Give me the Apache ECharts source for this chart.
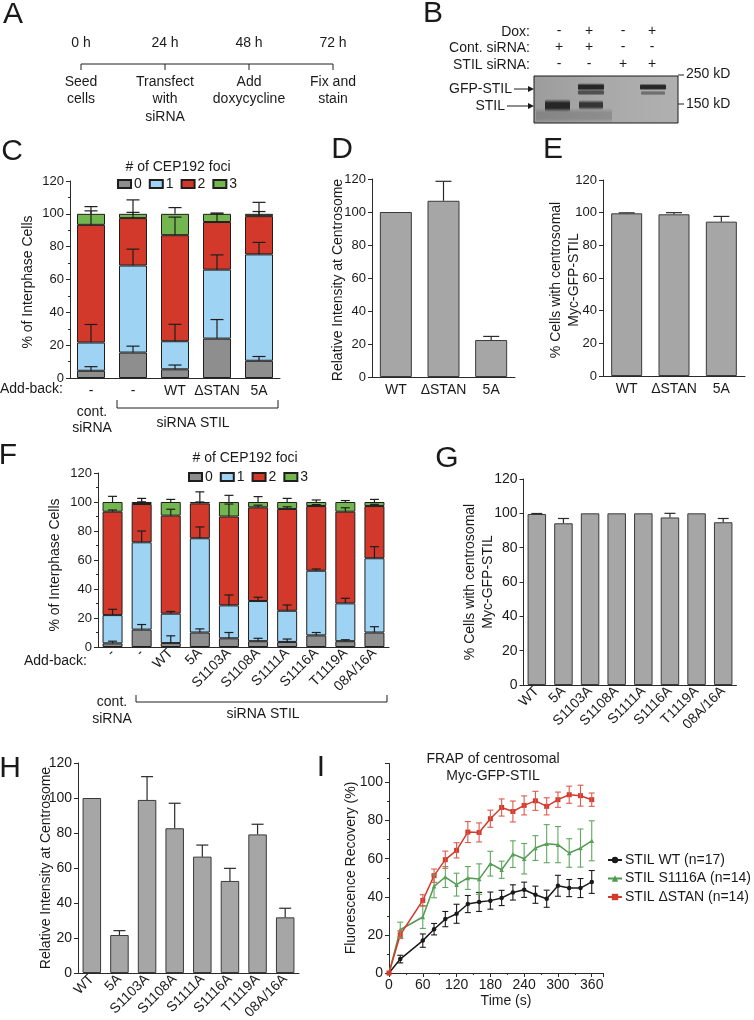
<!DOCTYPE html>
<html><head><meta charset="utf-8">
<script src="https://cdn.jsdelivr.net/npm/echarts@6/dist/echarts.min.js"></script>
<style>html,body{margin:0;padding:0;background:#fff}#c{width:754px;height:1020px}</style>
</head><body><div id="c"></div>
<script>
const FONT = 'Liberation Sans';
// ---------- Panel C ----------
const cCats = ['-', '-', 'WT', 'ΔSTAN', '5A'];
const cFoci0 = [4.4, 15.5, 5.3, 24, 10.5];
const cFoci1 = [17.2, 53, 17.1, 42, 64.8];
const cFoci2 = [71.7, 28.9, 64.6, 29, 23.3];
const cFoci3 = [6.7, 2.6, 13, 5, 1.4];
const cErr0 = [2.5, 3.9, 2.6, 11.6, 2.6];
const cErr1 = [11, 10, 10.3, 9, 7.3];
const cErr2 = [8.5, 3.5, 11, 5, 2.8];
const cErr3 = [4.4, 8.5, 3.8, 0.5, 7];
// ---------- Panel D ----------
const dCats = ['WT', 'ΔSTAN', '5A'];
const dVals = [100, 106.8, 22.4];
const dErr = [0, 11.8, 2.2];
// ---------- Panel E ----------
const eCats = ['WT', 'ΔSTAN', '5A'];
const eVals = [99.6, 99, 94.5];
const eErr = [0.3, 1, 3.2];
// ---------- Panel F ----------
const fCats = ['-', '-', 'WT', '5A', 'S1103A', 'S1108A', 'S1111A', 'S1116A', 'T1119A', '08A/16A'];
const fFoci0 = [2.5, 12, 2.7, 10, 6, 4, 3.5, 8, 4, 10];
const fFoci1 = [19.5, 60.2, 20.3, 65, 22.7, 27.7, 21.5, 44.6, 26.1, 51.2];
const fFoci2 = [71.3, 26.4, 67.6, 24, 61.3, 64.6, 70.2, 44.6, 63.2, 36];
const fFoci3 = [6.7, 1.4, 9.4, 1, 10, 3.7, 4.8, 2.8, 6.7, 2.8];
const fErr0 = [1.5, 3.5, 5, 2.5, 4, 2, 2, 2, 1, 4];
const fErr1 = [4, 7.8, 1.5, 7.8, 7.2, 2.6, 4, 1.2, 3.5, 8];
const fErr2 = [1.2, 1.5, 4.4, 1, 8.6, 1.5, 1.5, 1, 2.7, 1.2];
const fErr3 = [3.9, 2.5, 1.8, 7, 4.6, 3.7, 2.5, 1.4, 1, 1.8];
// ---------- Panel G ----------
const gCats = ['WT', '5A', 'S1103A', 'S1108A', 'S1111A', 'S1116A', 'T1119A', '08A/16A'];
const gVals = [99.6, 94.2, 100, 100, 100, 97.6, 100, 94.8];
const gErr = [0.3, 2.8, 0, 0, 0, 2.4, 0, 2.2];
// ---------- Panel H ----------
const hCats = ['WT', '5A', 'S1103A', 'S1108A', 'S1111A', 'S1116A', 'T1119A', '08A/16A'];
const hVals = [100, 21.7, 98.9, 82.7, 66.5, 52.6, 79.2, 31.8];
const hErr = [0, 2.5, 13.3, 14.3, 6.6, 7.2, 5.8, 5.2];
// ---------- Panel I ----------
const iTimes = [0, 20, 60, 80, 100, 120, 140, 160, 180, 200, 220, 240, 260, 280, 300, 320, 340, 360];
const iWT = [0, 7.3, 17, 23, 28.3, 31.1, 36.2, 37.3, 38, 39.4, 42.3, 43.7, 41.1, 39, 45.8, 44.6, 44.6, 47.8];
const iWTErr = [0, 2, 3.5, 3, 4, 5, 4.5, 5, 4.5, 4, 4, 4, 4.5, 4.5, 5.5, 4.5, 5, 6];
const iS1116A = [0, 22.7, 29.4, 45.5, 50.4, 46.4, 49.9, 49.3, 57.4, 54.2, 62.4, 60, 65.6, 67.9, 67.4, 63, 65.6, 69.4];
const iS1116AErr = [0, 4, 6, 6, 5.5, 6, 6, 8, 6.5, 4.5, 7, 8, 6.5, 10, 9.5, 7.5, 10, 10.5];
const iDSTAN = [0, 20.1, 38.1, 51.1, 59.5, 64.4, 74, 73.8, 81, 86.9, 84.8, 88, 90.4, 87.5, 91, 93.6, 93.1, 91];
const iDSTANErr = [0, 2, 3, 3.5, 4.5, 4, 5.5, 5, 4.5, 4.5, 5.5, 5, 5, 4.5, 4, 4.5, 5.5, 3.5];
const iNames = ['STIL WT (n=17)', 'STIL S1116A (n=14)', 'STIL ΔSTAN (n=14)'];

const COL0 = '#8e8e8e', COL1 = '#9fd3f3', COL2 = '#d2392b', COL3 = '#73b650';
const BARGRAY = '#a6a6a6';
const AX = '#2a2a2a', TXT = '#1a1a1a';

function catAxis(grid, data, extra) {
  const a = {type: 'category', gridIndex: grid, data,
    axisLine: {lineStyle: {color: AX, width: 1}}, axisTick: {show: false},
    axisLabel: {color: TXT, fontSize: 14, fontFamily: FONT, margin: 6, interval: 0}};
  if (extra) Object.assign(a.axisLabel, extra);
  return a;
}
function valAxis(grid, max, interval, fs, minor) {
  return {type: 'value', gridIndex: grid, min: 0, max, interval,
    splitLine: {show: false},
    axisLine: {show: true, lineStyle: {color: AX, width: 1}},
    axisTick: {show: true, length: 4, lineStyle: {color: AX}},
    minorTick: {show: !!minor, splitNumber: 2, length: 2, lineStyle: {color: AX}},
    axisLabel: {fontSize: fs, color: TXT, fontFamily: FONT, margin: 6, showMaxLabel: (max % interval === 0)}};
}
function stackErr(segs, errs) {
  const out = [];
  for (let i = 0; i < segs[0].length; i++) {
    let cum = 0;
    for (let k = 0; k < segs.length; k++) {
      cum += segs[k][i];
      if (errs[k][i] > 0) out.push([i, cum, cum + errs[k][i]]);
    }
  }
  return out;
}
function barErr(vals, errs) {
  const out = [];
  vals.forEach((v, i) => { if (errs[i] > 0) out.push([i, v, v + errs[i]]); });
  return out;
}
function errSeries(xi, data, capW, color, twoSided, lw) {
  return {type: 'custom', xAxisIndex: xi, yAxisIndex: xi, z: 5, silent: true,
    data, encode: {x: 0, y: [1, 2]},
    renderItem: function (params, api) {
      const x = api.value(0), lo = api.value(1), hi = api.value(2);
      const p1 = api.coord([x, lo]), p2 = api.coord([x, hi]);
      const st = {stroke: color, lineWidth: lw || 1.2};
      const ch = [
        {type: 'line', shape: {x1: p1[0], y1: p1[1], x2: p2[0], y2: p2[1]}, style: st},
        {type: 'line', shape: {x1: p2[0] - capW / 2, y1: p2[1], x2: p2[0] + capW / 2, y2: p2[1]}, style: st}
      ];
      if (twoSided) ch.push({type: 'line', shape: {x1: p1[0] - capW / 2, y1: p1[1], x2: p1[0] + capW / 2, y2: p1[1]}, style: st});
      return {type: 'group', children: ch};
    }};
}
function stackBars(xi, stack, segs, bw) {
  const cols = [COL0, COL1, COL2, COL3];
  return segs.map((d, k) => ({type: 'bar', name: String(k), stack, xAxisIndex: xi, yAxisIndex: xi,
    data: d, barWidth: bw, itemStyle: {color: cols[k], borderColor: '#1e1e1e', borderWidth: 1}}));
}
function plainBar(xi, vals, bw) {
  return {type: 'bar', xAxisIndex: xi, yAxisIndex: xi, data: vals, barWidth: bw,
    itemStyle: {color: BARGRAY, borderColor: '#3a3a3a', borderWidth: 1}};
}

// ---------- graphics helpers ----------
const G = [];
function T(text, x, y, o) {
  o = o || {};
  G.push({type: 'text', x, y, rotation: o.rot || 0, silent: true,
    style: {text, fontFamily: FONT, fontSize: o.fs || 14, fill: o.fill || TXT,
      align: o.align || 'center', verticalAlign: 'middle', lineHeight: o.lh || 17}});
}
function L(x1, y1, x2, y2, w) {
  G.push({type: 'line', silent: true, shape: {x1, y1, x2, y2}, style: {stroke: '#1e1e1e', lineWidth: w || 1}});
}
function PL(points) {
  G.push({type: 'polyline', silent: true, shape: {points}, style: {stroke: '#1e1e1e', fill: null, lineWidth: 1}});
}
// soft blot band: vertical gradient fading at top and bottom edges
function Band(x, y, width, height, alpha, shade) {
  const c = shade || '25,25,25';
  G.push({type: 'rect', silent: true, shape: {x, y, width, height, r: 2},
    style: {fill: new echarts.graphic.LinearGradient(0, 0, 0, 1, [
      {offset: 0, color: 'rgba(' + c + ',0)'},
      {offset: 0.3, color: 'rgba(' + c + ',' + alpha + ')'},
      {offset: 0.7, color: 'rgba(' + c + ',' + alpha + ')'},
      {offset: 1, color: 'rgba(' + c + ',0)'}])}});
}
// panel letters
[['A', 13, 15], ['B', 433, 14], ['C', 12, 152], ['D', 342, 150], ['E', 553, 150], ['F', 8, 456],
 ['G', 447, 459], ['H', 10, 769], ['I', 321, 768]].forEach(p => T(p[0], p[1], p[2], {fs: 30}));

// Panel A timeline
const aX = [81, 165, 249, 333];
const aTop = ['0 h', '24 h', '48 h', '72 h'];
const aBottom = ['Seed\ncells', 'Transfect\nwith\nsiRNA', 'Add\ndoxycycline', 'Fix and\nstain'];
L(81, 64, 333, 64);
aX.forEach((x, i) => {
  L(x, 64, x, 70);
  T(aTop[i], x, 43);
  G.push({type: 'text', x, y: 73, silent: true, style: {text: aBottom[i], fontFamily: FONT, fontSize: 14,
    fill: TXT, align: 'center', verticalAlign: 'top', lineHeight: 17.5}});
});

// Panel B western blot
const bRows = ['Dox:', 'Cont. siRNA:', 'STIL siRNA:'];
const bRowY = [32, 48, 65];
const bSigns = [['-', '+', '-', '+'], ['+', '+', '-', '-'], ['-', '-', '+', '+']];
const bLaneX = [559, 589, 623, 652];
bRows.forEach((r, i) => {
  T(r, 530, bRowY[i], {align: 'right'});
  bSigns[i].forEach((s, j) => T(s, bLaneX[j], bRowY[i] - 1));
});
G.push({type: 'rect', silent: true, shape: {x: 534, y: 76, width: 144, height: 47},
  style: {fill: new echarts.graphic.LinearGradient(0, 0, 1, 0, [
    {offset: 0, color: '#9c9c9c'}, {offset: 0.5, color: '#a9a9a9'}, {offset: 1, color: '#b0b0b0'}]),
    stroke: '#1a1a1a', lineWidth: 1}});
Band(536, 108, 76, 15, 0.25, '60,60,60');
Band(545, 99, 25, 13, 0.9);
Band(578, 83, 26, 8, 0.9);
Band(578, 89.5, 26, 6, 0.7, '45,45,45');
Band(579, 100, 24, 10, 0.8);
Band(640, 83.5, 26, 7, 0.9);
Band(641, 90.5, 24, 5, 0.55, '60,60,60');
L(678, 75, 684, 75); T('250 kD', 686, 74, {align: 'left'});
L(678, 104, 684, 104); T('150 kD', 686, 104, {align: 'left'});
T('GFP-STIL', 512, 89, {align: 'right'});
L(514, 89, 529, 89);
G.push({type: 'polygon', silent: true, shape: {points: [[528, 86], [534, 89], [528, 92]]}, style: {fill: '#1a1a1a'}});
T('STIL', 505, 106, {align: 'right'});
L(507, 106, 529, 106);
G.push({type: 'polygon', silent: true, shape: {points: [[528, 103], [534, 106], [528, 109]]}, style: {fill: '#1a1a1a'}});

// Panel C annotations
T('# of CEP192 foci', 178, 167);
T('% of Interphase Cells', 28, 282, {rot: Math.PI / 2});
T('Add-back:', 63, 389, {align: 'right'});
PL([[117, 400], [117, 408], [278, 408], [278, 400]]);
T('siRNA STIL', 193, 423);
T('cont.', 92, 412); T('siRNA', 92, 428);
// Panel D / E
T('Relative Intensity at Centrosome', 338, 280, {rot: Math.PI / 2});
T('% Cells with centrosomal', 556, 280, {rot: Math.PI / 2});
T('Myc-GFP-STIL', 574, 280, {rot: Math.PI / 2});
// Panel F
T('# of CEP192 foci', 245, 458);
T('% of Interphase Cells', 55, 565, {rot: Math.PI / 2});
T('Add-back:', 87, 661, {align: 'right'});
PL([[136, 695], [136, 702], [387, 702], [387, 695]]);
T('siRNA STIL', 263, 714);
T('cont.', 112, 702); T('siRNA', 112, 719);
// Panel G
T('% Cells with centrosomal', 470, 582, {rot: Math.PI / 2});
T('Myc-GFP-STIL', 488, 582, {rot: Math.PI / 2});
// Panel H
T('Relative Intensity at Centrosome', 46, 868, {rot: Math.PI / 2});
// Panel I
T('FRAP of centrosomal', 493, 759);
T('Myc-GFP-STIL', 493, 776);
T('Time (s)', 506, 1001);
T('Fluorescence Recovery (%)', 351, 868, {rot: Math.PI / 2});

const grids = [
  {left: 70, top: 181, width: 210, height: 197},   // C
  {left: 372, top: 179, width: 143, height: 198},  // D
  {left: 603, top: 180, width: 142, height: 196},  // E
  {left: 98, top: 473, width: 291, height: 174},   // F
  {left: 523.5, top: 479, width: 213, height: 206},// G
  {left: 78, top: 763, width: 221, height: 210},   // H
  {left: 389, top: 763.5, width: 214, height: 209.5} // I
].map(g => Object.assign({outerBoundsMode: 'none', containLabel: false}, g));

const rot = {rotate: 45, margin: 4};
const xAxes = [
  catAxis(0, cCats, {fontSize: 14}),
  catAxis(1, dCats),
  catAxis(2, eCats),
  catAxis(3, fCats, rot),
  catAxis(4, gCats, rot),
  catAxis(5, hCats, rot),
  {type: 'value', gridIndex: 6, min: 0, max: 380, interval: 60, splitLine: {show: false},
    axisLine: {lineStyle: {color: AX}}, axisTick: {length: 4, lineStyle: {color: AX}},
    minorTick: {show: true, splitNumber: 2, length: 2, lineStyle: {color: AX}},
    axisLabel: {fontSize: 14, color: TXT, fontFamily: FONT, margin: 5, showMaxLabel: false}}
];
const yAxes = [
  valAxis(0, 120, 20, 13, true),
  valAxis(1, 120, 20, 13, false),
  valAxis(2, 120, 20, 13, false),
  valAxis(3, 120, 20, 13, true),
  valAxis(4, 120, 20, 14, false),
  valAxis(5, 120, 20, 14, false),
  valAxis(6, 110, 20, 14, true)
];

const cSegs = [cFoci0, cFoci1, cFoci2, cFoci3];
const fSegs = [fFoci0, fFoci1, fFoci2, fFoci3];
const lineCols = ['#1a1a1a', '#4f9a4f', '#d23a2c'];
const errCols = ['#1a1a1a', '#5fa85f', '#de5a4e'];
const iVals = [iWT, iS1116A, iDSTAN];
const iErrs = [iWTErr, iS1116AErr, iDSTANErr];
const iSym = ['circle', 'triangle', 'rect'];
const iSymSize = [4.5, 4.5, 5];

let series = [];
series = series.concat(stackBars(0, 'c', cSegs, 28));
series.push(errSeries(0, stackErr(cSegs, [cErr0, cErr1, cErr2, cErr3]), 13, '#1e1e1e'));
series.push(plainBar(1, dVals, 32));
series.push(errSeries(1, barErr(dVals, dErr), 16, '#2a2a2a'));
series.push(plainBar(2, eVals, 31));
series.push(errSeries(2, barErr(eVals, eErr), 16, '#2a2a2a'));
series = series.concat(stackBars(3, 'f', fSegs, 20));
series.push(errSeries(3, stackErr(fSegs, [fErr0, fErr1, fErr2, fErr3]), 9, '#1e1e1e'));
series.push(plainBar(4, gVals, 18.5));
series.push(errSeries(4, barErr(gVals, gErr), 11, '#2a2a2a'));
series.push(plainBar(5, hVals, 18.5));
series.push(errSeries(5, barErr(hVals, hErr), 12, '#2a2a2a'));
iVals.forEach((vals, k) => {
  series.push({type: 'line', name: iNames[k], xAxisIndex: 6, yAxisIndex: 6, z: 4,
    data: iTimes.map((t, i) => [t, vals[i]]),
    symbol: iSym[k], symbolSize: iSymSize[k], showSymbol: true,
    lineStyle: {color: lineCols[k], width: 1.5}, itemStyle: {color: lineCols[k]}});
  series.push(errSeries(6, iTimes.map((t, i) => [t, vals[i] - iErrs[k][i], vals[i] + iErrs[k][i]]).filter((d, i) => iErrs[k][i] > 0),
    6, errCols[k], true, 1.1));
});

const legendCommon = {icon: 'rect', itemWidth: 13, itemHeight: 8, itemGap: 7, selectedMode: false,
  textStyle: {fontSize: 14, fontFamily: FONT, color: TXT, padding: [0, 0, 0, -2]}, padding: 0};
const option = {
  animation: false,
  backgroundColor: '#ffffff',
  grid: grids,
  xAxis: xAxes,
  yAxis: yAxes,
  legend: [
    Object.assign({}, legendCommon, {data: ['0', '1', '2', '3'], left: 117, top: 177}),
    Object.assign({}, legendCommon, {data: ['0', '1', '2', '3'], left: 188, top: 470}),
    {data: iNames, orient: 'vertical', left: 607, top: 853, itemWidth: 14, itemHeight: 8, itemGap: 4.5,
      selectedMode: false, padding: 0, textStyle: {fontSize: 14, fontFamily: FONT, color: TXT, padding: [0, 0, 0, -2]}}
  ],
  series,
  graphic: G
};
const chart = echarts.init(document.getElementById('c'), null, {renderer: 'canvas', width: 754, height: 1020});
chart.setOption(option);
</script></body></html>
